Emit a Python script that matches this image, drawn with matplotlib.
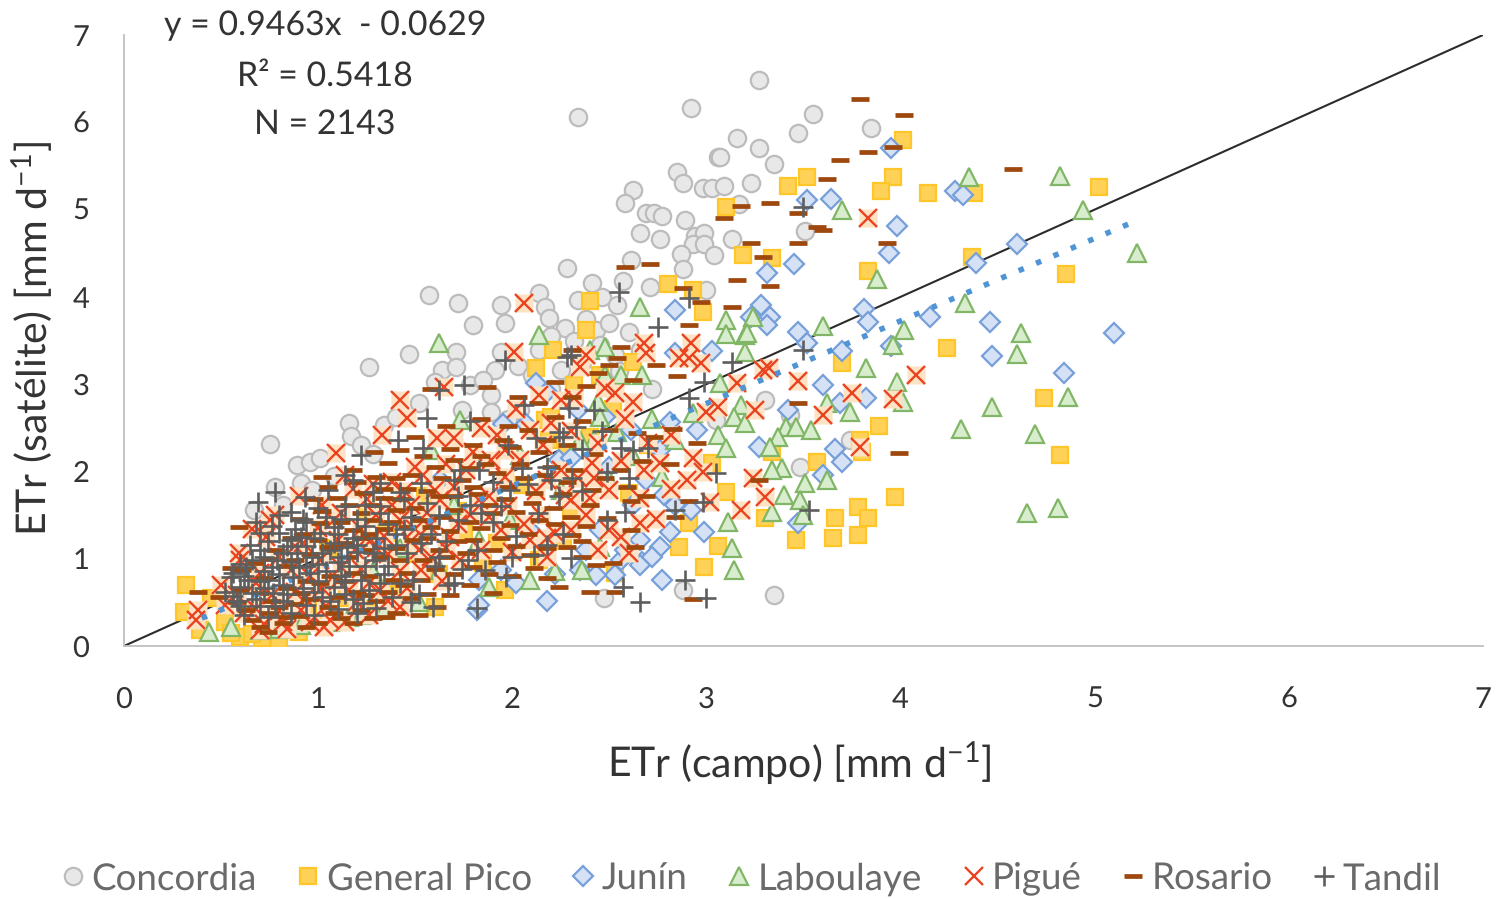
import matplotlib
matplotlib.use("Agg")
import matplotlib.pyplot as plt

plt.rcParams['font.family'] = ['Lato', 'DejaVu Sans']
plt.rcParams['mathtext.default'] = 'regular'
plt.rcParams['text.hinting'] = 'none'

concordia = [
    (3.27,6.48),(2.34,6.06),(2.92,6.16),(3.55,6.09),(3.47,5.88),(3.85,5.93),(3.16,5.82),(3.27,5.70),(3.06,5.60),(3.07,5.60),
    (3.35,5.52),(2.85,5.43),(2.88,5.31),(2.98,5.25),(3.03,5.25),(3.09,5.27),(3.23,5.30),(2.62,5.22),(2.58,5.08),(2.69,4.96),
    (2.73,4.96),(2.77,4.93),(2.89,4.88),(3.17,5.06),(3.51,4.75),(2.66,4.73),(2.76,4.66),(2.94,4.70),(2.99,4.73),(2.93,4.60),
    (2.99,4.60),(3.13,4.66),(2.87,4.49),(3.04,4.48),(2.88,4.32),(2.61,4.42),(2.28,4.33),(2.41,4.16),(2.57,4.18),(2.71,4.11),
    (3.00,4.08),(2.34,3.96),(2.46,4.00),(2.54,3.91),(1.57,4.02),(1.72,3.93),(1.94,3.91),(1.80,3.68),(1.96,3.70),(1.47,3.34),
    (1.26,3.20),(2.14,4.04),(2.17,3.88),(2.19,3.76),(2.27,3.64),(1.64,3.16),(1.71,3.37),(1.71,3.20),(1.94,3.37),(1.91,3.16),
    (2.03,3.21),(1.78,2.99),(1.89,2.88),(1.16,2.55),(1.34,2.53),(0.75,2.31),(1.17,2.41),(0.89,2.07),(0.96,2.11),(1.01,2.15),
    (0.91,1.87),(0.97,1.79),(0.67,1.56),(1.89,2.68),(2.04,2.70),(2.32,3.50),(2.43,3.62),(2.45,3.45),(2.53,3.33),(2.66,3.39),
    (2.14,3.39),(2.25,3.16),(3.35,0.58),(2.88,0.64),(2.47,0.55),(3.48,2.05),(3.43,2.65),(3.30,2.82),(3.05,2.59),(3.74,2.36),
    (1.98,2.60),(1.85,3.05),(1.22,2.30),(1.08,1.95),(2.38,3.75),(2.50,3.70),(2.60,3.60),(2.20,3.55),(2.36,3.25),(2.10,3.10),
    (1.60,3.02),(1.52,2.78),(1.74,2.70),(1.40,2.62),(2.20,2.95),(2.55,3.15),(2.72,2.95),(0.82,1.62),(0.78,1.82),(1.28,2.20),
]
general_pico = [
    (4.01,5.80),(3.96,5.37),(3.90,5.21),(4.14,5.19),(4.38,5.19),(3.52,5.37),(3.42,5.27),(3.10,5.03),(3.19,4.48),(3.34,4.45),
    (3.83,4.30),(4.37,4.46),(5.02,5.26),(4.85,4.26),(2.80,4.15),(2.93,4.08),(2.98,3.83),(2.40,3.95),(4.24,3.41),(3.89,2.52),
    (3.79,2.36),(3.80,2.22),(3.57,2.11),(3.97,1.71),(3.78,1.59),(3.66,1.47),(3.83,1.47),(3.78,1.27),(3.65,1.24),(3.46,1.21),
    (3.10,1.76),(3.30,1.47),(2.91,1.41),(2.86,1.13),(3.06,1.15),(2.99,0.90),(2.53,0.84),(3.70,3.24),(3.03,2.10),(3.34,2.22),
    (2.38,3.62),(4.82,2.19),(4.74,2.84),(0.32,0.70),(0.31,0.39),(0.39,0.18),(0.60,0.10),(0.80,0.07),(0.71,0.09),(0.52,0.27),
    (1.60,0.45),(1.96,0.64),(2.14,0.99),(2.21,3.39),(2.32,2.99),(2.45,3.10),(2.17,2.59),(2.19,2.36),(2.12,3.18),(1.55,1.72),
    (1.25,1.50),(1.75,1.30),(2.05,1.85),(2.30,1.55),(2.60,1.75),(1.15,0.55),(0.95,0.42),(1.40,0.60),(1.85,0.95),(2.20,2.62),
    (0.45,0.55),(0.55,0.15),(0.66,0.14),(0.90,0.16),(1.05,0.35),(1.25,0.42),(1.62,0.82),(1.72,1.55),(1.92,1.18),(2.26,1.20),
    (1.05,1.12),(1.35,1.30),(1.50,1.05),(2.40,2.40),(2.70,2.30),(2.28,2.22),(2.52,2.72),(2.62,3.25),
]
junin = [
    (3.95,5.70),(4.28,5.21),(4.32,5.17),(3.52,5.11),(3.64,5.12),(3.98,4.81),(3.94,4.50),(3.45,4.38),(3.31,4.27),(4.60,4.60),
    (4.39,4.39),(2.84,3.85),(3.28,3.91),(3.23,3.77),(3.33,3.77),(3.81,3.86),(3.83,3.71),(4.15,3.77),(4.46,3.71),(5.10,3.59),
    (4.47,3.32),(4.84,3.13),(3.31,3.68),(3.47,3.60),(3.52,3.47),(3.70,3.38),(3.95,3.44),(3.03,3.38),(2.84,3.36),(3.60,2.99),
    (3.82,2.84),(3.69,2.78),(3.42,2.70),(3.27,2.28),(3.66,2.26),(3.70,2.11),(2.81,2.57),(2.61,2.47),(2.95,2.47),(3.60,1.96),
    (2.69,1.90),(2.78,1.73),(2.81,1.31),(2.76,1.13),(2.99,1.31),(3.47,1.41),(2.67,0.96),(2.77,0.76),(2.18,0.51),(1.82,0.41),
    (1.83,0.47),(2.12,3.01),(2.18,2.91),(2.07,2.54),(1.95,2.54),(2.24,2.13),(2.53,0.81),(2.35,0.87),(2.43,0.81),(2.66,0.93),
    (2.56,0.99),(2.66,1.21),(2.45,1.33),(2.09,1.33),(1.94,0.87),(1.83,0.76),(1.63,1.90),(2.92,1.56),(2.30,2.15),(2.50,2.05),
    (2.58,1.10),(2.72,1.02),(2.38,1.10),(2.22,0.82),(2.02,0.72),(2.84,1.62),(2.62,1.62),(2.48,2.62),(2.34,2.70),(2.76,2.25),
]
laboulaye = [
    (4.35,5.37),(4.82,5.38),(4.94,4.99),(5.22,4.50),(3.70,4.99),(3.88,4.20),(4.33,3.93),(4.62,3.59),(4.60,3.34),(4.02,3.62),
    (3.96,3.45),(3.98,3.02),(4.01,2.79),(4.47,2.74),(4.31,2.49),(4.69,2.43),(4.86,2.85),(4.65,1.52),(4.81,1.58),(3.60,3.67),
    (3.82,3.18),(3.20,3.56),(3.10,3.73),(3.24,3.77),(2.66,3.88),(3.21,3.59),(3.10,3.58),(3.20,3.37),(2.67,3.10),(2.48,3.43),
    (2.56,3.10),(2.44,2.79),(2.45,2.62),(2.54,2.45),(2.42,2.36),(2.93,2.67),(3.07,3.01),(3.18,2.76),(3.14,2.62),(3.20,2.55),
    (3.06,2.42),(2.84,2.36),(3.10,2.27),(3.41,2.51),(3.46,2.51),(3.54,2.47),(3.37,2.39),(3.33,2.28),(3.62,2.78),(3.74,2.68),
    (3.39,2.04),(3.34,2.02),(3.51,1.87),(3.62,1.90),(3.40,1.73),(3.48,1.67),(3.34,1.53),(3.50,1.50),(3.13,1.12),(3.14,0.87),
    (2.77,1.94),(3.11,1.42),(2.45,1.13),(2.36,0.87),(1.62,3.47),(0.44,0.16),(1.16,0.33),(1.34,0.41),(2.09,0.76),(1.58,2.25),
    (1.73,2.59),(2.14,3.56),(2.48,3.10),(2.40,3.39),(2.25,1.79),(1.99,1.44),(1.83,1.21),(1.63,0.87),(0.91,0.24),(0.70,0.18),
    (1.06,0.27),(2.50,1.90),(2.35,2.36),(2.04,2.19),(0.55,0.22),(0.80,0.20),(1.22,0.36),(1.52,0.50),(1.88,0.68),(2.22,0.86),
    (1.28,0.85),(1.42,1.12),(1.70,1.62),(2.62,2.18),(2.72,2.60),
]
pigue = [
    (3.83,4.90),(2.06,3.93),(4.08,3.10),(3.96,2.83),(3.75,2.90),(3.60,2.65),(3.79,2.28),(3.47,3.04),(3.32,3.18),(3.29,3.16),
    (3.25,2.70),(3.16,3.01),(3.06,2.74),(3.00,2.68),(2.92,3.47),(2.86,3.30),(2.97,3.24),(2.91,3.30),(2.68,3.47),(2.69,3.36),
    (2.38,3.33),(2.35,3.20),(2.62,2.80),(2.53,2.90),(2.41,2.10),(2.76,2.10),(2.93,2.15),(2.90,1.90),(2.98,1.99),(3.02,1.65),
    (3.18,1.56),(3.24,1.92),(3.30,1.71),(2.30,1.67),(2.40,1.70),(2.50,1.79),(2.56,1.25),(2.66,1.41),(1.42,2.82),(1.46,2.61),
    (1.33,2.42),(1.09,2.21),(1.61,2.38),(1.70,2.38),(1.65,2.97),(0.78,1.50),(0.73,1.25),(0.59,1.07),(0.38,0.41),(1.42,0.45),
    (1.03,0.22),(2.01,3.37),(2.14,2.88),(1.96,2.25),(1.89,2.13),(2.25,2.82),(2.27,1.73),(2.25,2.02),(2.09,2.47),(2.04,2.13),
    (1.83,1.67),(1.63,1.67),(1.60,1.79),(1.42,1.44),(1.27,1.21),(1.19,1.10),(1.06,0.30),(0.91,0.41),(0.70,0.18),(0.52,0.47),
    (0.37,0.30),(0.60,0.98),(0.75,1.44),(0.86,0.87),(1.01,0.98),(1.16,0.64),(1.32,0.64),(1.53,0.87),(1.73,0.98),(1.94,1.33),
    (2.09,1.21),(2.30,1.33),(2.50,1.33),(0.82,0.28),(0.93,0.55),(1.10,0.75),(1.22,0.88),(1.36,1.05),(1.48,1.20),(1.57,1.38),
    (1.68,1.25),(1.78,1.50),(1.88,1.72),(1.98,1.60),(2.15,1.50),(2.18,1.90),(1.50,2.05),(1.38,1.88),(1.25,1.68),(1.12,1.52),
    (1.00,1.35),(0.88,1.15),(0.68,0.72),(0.62,0.38),(0.76,0.58),(1.30,1.12),(1.58,1.02),(1.70,1.82),(1.80,2.22),(1.92,2.42),
    (1.48,1.62),(1.18,1.80),(1.02,1.62),(0.90,1.72),(0.50,0.70),
]
# crosses packed into the dense part of the cloud
pigue_cloud = [
    (0.72,0.25),(0.84,0.20),(0.96,0.27),(1.14,0.28),(1.26,0.36),(0.68,0.42),(0.80,0.40),(1.04,0.46),(1.20,0.50),(1.36,0.52),
    (0.58,0.58),(0.88,0.62),(1.02,0.66),(1.26,0.72),(1.46,0.66),(0.70,0.84),(0.96,0.80),(1.12,0.90),(1.42,0.86),(1.64,0.74),
    (0.80,1.02),(0.92,1.18),(1.10,1.22),(1.22,1.34),(1.34,1.26),(1.52,1.10),(1.66,1.12),(1.84,1.10),(2.00,1.08),(2.18,1.02),
    (1.08,1.44),(1.30,1.50),(1.44,1.78),(1.56,1.52),(1.72,1.40),(1.88,1.48),(2.06,1.40),(2.22,1.30),(2.38,1.50),(1.14,1.96),
    (1.28,1.86),(1.54,1.96),(1.66,2.08),(1.76,2.02),(1.96,1.94),(2.12,1.78),(2.34,1.92),(2.44,2.32),(1.84,2.50),(2.02,2.72),
    (2.20,2.56),(2.32,2.84),(2.48,2.96),(2.58,2.60),(2.70,2.32),(2.82,1.80),(2.66,1.70),(2.44,1.10),(2.60,1.06),(0.66,1.34),
    (2.16,2.30),(2.30,2.46),(2.42,1.92),(2.56,2.12),(2.68,2.02),(2.82,2.42),(2.74,1.46),(2.18,1.24),(1.50,1.34),(1.38,1.62),
]
rosario = [
    (3.79,6.27),(4.02,6.08),(3.83,5.66),(3.69,5.57),(3.62,5.35),(3.96,5.72),(4.58,5.47),(3.18,5.04),(3.33,5.07),(3.47,4.96),
    (3.09,4.90),(3.57,4.80),(3.60,4.77),(3.23,4.62),(3.47,4.62),(3.93,4.62),(3.29,4.46),(2.58,4.34),(2.71,4.38),(3.16,4.19),
    (3.33,4.12),(2.88,4.10),(2.97,3.94),(3.13,3.88),(2.91,3.68),(2.56,3.43),(2.54,3.30),(2.31,3.39),(2.44,3.13),(2.85,3.09),
    (2.31,2.85),(3.47,2.78),(2.83,2.49),(2.95,2.33),(2.73,2.39),(2.67,2.12),(2.81,2.08),(3.99,2.21),(3.27,1.90),(2.41,1.79),
    (2.59,1.82),(2.69,1.72),(2.61,1.66),(2.91,1.66),(2.84,1.48),(2.49,1.47),(2.38,1.38),(2.63,1.13),(2.31,1.27),(2.52,0.95),
    (2.43,0.93),(2.40,0.62),(2.53,0.62),(2.93,0.54),(2.61,1.33),(2.28,1.13),(2.36,1.02),(0.59,1.36),(0.38,0.62),(1.02,1.94),
    (1.29,2.22),(1.58,2.94),(1.87,2.97),(2.03,2.85),(2.13,2.78),(2.08,2.48),(2.18,2.36),(1.80,2.30),(1.95,2.36),(1.70,2.13),
    (1.42,2.25),(1.18,2.02),(1.30,1.94),(1.40,1.93),(1.23,1.75),(1.05,1.82),(1.01,1.41),(1.05,1.13),(1.32,1.02),(1.53,0.76),
    (1.61,0.45),(1.35,0.33),(0.84,0.33),(0.94,0.22),(0.74,0.16),(0.61,0.87),(0.55,0.89),(0.49,0.56),(1.80,1.82),(1.90,1.52),
    (1.99,1.39),(1.92,0.96),(1.90,0.61),(1.80,0.90),(2.11,0.89),(2.18,0.78),(2.11,1.75),(2.21,1.58),(2.09,1.04),(1.70,1.56),
    (1.58,1.36),(1.49,1.21),(1.28,1.44),(1.18,1.33),(1.08,1.13),(1.39,0.76),(1.18,0.84),(1.01,0.72),(0.91,0.61),(0.70,0.61),
    (0.75,0.38),(0.63,0.41),(0.80,0.45),(1.05,0.45),(1.22,0.41),(0.66,0.30),(0.88,0.48),(1.12,0.32),(1.30,0.52),(1.48,0.55),
    (0.72,0.78),(0.84,0.92),(0.96,1.05),(1.14,1.18),(1.26,1.28),(1.38,1.42),(1.50,1.58),(1.62,1.72),(1.74,1.90),(1.86,2.08),
    (0.78,1.10),(0.92,1.28),(1.02,1.55),(1.16,1.62),(1.34,1.70),(1.46,1.80),(1.60,2.05),(1.72,1.20),(1.84,1.35),(1.96,1.68),
    (2.06,1.92),(2.20,2.05),(2.28,1.88),(2.02,1.15),(1.66,1.02),(1.42,0.98),(1.20,0.62),(1.44,0.70),(0.58,0.50),(0.68,0.95),
]
rosario_cloud = [
    (0.70,0.22),(0.82,0.26),(0.90,0.34),(1.00,0.26),(1.08,0.38),(1.18,0.26),(1.28,0.32),(1.40,0.38),(1.52,0.36),(0.60,0.64),
    (0.76,0.52),(0.96,0.54),(1.10,0.56),(1.24,0.58),(1.36,0.62),(1.56,0.60),(1.68,0.58),(1.78,0.70),(0.84,0.66),(0.94,0.74),
    (1.06,0.80),(1.14,0.74),(1.26,0.80),(1.46,0.84),(1.60,0.88),(1.70,0.82),(1.88,0.82),(2.00,0.80),(2.24,0.68),(0.74,1.00),
    (0.88,0.98),(1.16,1.02),(1.24,1.10),(1.40,1.12),(1.54,0.98),(1.62,1.10),(1.76,1.06),(1.90,1.10),(2.18,1.12),(0.86,1.24),
    (1.00,1.22),(1.22,1.24),(1.34,1.34),(1.46,1.36),(1.56,1.24),(1.68,1.32),(1.80,1.22),(1.94,1.24),(2.08,1.28),(2.22,1.40),
    (2.36,1.20),(0.90,1.46),(1.12,1.42),(1.22,1.52),(1.40,1.56),(1.52,1.44),(1.64,1.48),(1.78,1.42),(1.88,1.62),(2.02,1.54),
    (2.14,1.44),(2.30,1.48),(0.98,1.68),(1.10,1.70),(1.28,1.62),(1.42,1.68),(1.56,1.78),(1.70,1.72),(1.82,1.74),(1.98,1.82),
    (2.10,1.64),(2.26,1.74),(2.40,1.62),(1.20,1.88),(1.34,1.80),(1.48,1.96),(1.64,1.92),(1.78,2.04),(1.92,1.98),(2.04,2.08),
    (2.16,1.96),(2.32,2.02),(2.48,1.92),(1.36,2.10),(1.54,2.18),(1.68,2.26),(1.84,2.18),(2.00,2.28),(2.14,2.22),(2.28,2.30),
    (2.42,2.20),(2.56,2.02),(1.50,2.40),(1.66,2.52),(1.84,2.60),(1.98,2.52),(2.22,2.62),(2.36,2.58),(2.50,2.48),(2.64,2.44),
    (2.22,3.02),(2.38,2.98),(2.50,3.22),(2.62,3.05),(2.74,3.22),
]
tandil = [
    (2.75,3.65),(3.13,3.25),(3.50,3.39),(2.99,3.03),(2.91,2.84),(2.56,2.27),(2.62,2.24),(2.70,2.27),(2.42,2.70),(2.29,2.73),
    (2.33,2.51),(2.26,2.39),(2.28,3.31),(3.05,1.98),(2.49,1.99),(2.31,1.92),(2.60,1.92),(2.98,1.65),(2.84,1.56),(2.58,1.53),
    (2.49,1.44),(3.53,1.56),(2.30,1.01),(2.89,0.76),(2.57,0.68),(2.66,0.50),(3.00,0.55),(3.50,5.03),(2.55,4.05),(2.91,3.99),
    (1.96,3.28),(2.30,3.33),(1.75,2.99),(1.62,2.93),(2.06,2.76),(1.56,2.61),(1.78,2.58),(2.24,2.45),(1.41,2.36),(1.54,2.27),
    (1.22,2.19),(1.73,2.02),(1.83,2.02),(2.05,2.04),(2.18,2.05),(1.14,1.96),(0.78,1.76),(0.69,1.65),(0.93,1.71),(1.05,1.79),
    (0.86,1.54),(1.32,1.87),(1.18,1.90),(1.53,1.87),(1.70,1.90),(1.99,1.79),(2.13,1.52),(2.11,1.04),(1.86,0.87),(1.97,0.79),
    (1.67,0.70),(1.82,0.44),(1.59,0.45),(0.65,1.16),(0.80,1.29),(0.91,1.25),(1.01,1.29),(1.32,1.52),(1.15,1.13),(1.53,1.18),
    (0.63,0.90),(0.55,0.79),(0.74,0.76),(0.87,0.79),(0.96,0.84),(1.08,0.68),(1.23,0.49),(0.77,0.61),(0.66,0.61),(0.60,0.68),
    (0.56,0.84),(0.66,0.98),(0.79,0.98),(0.89,1.07),(0.97,1.02),(1.49,0.76),(1.70,0.72),(1.32,0.72),(1.77,0.98),(0.58,0.52),
    (0.70,0.46),(0.82,0.52),(0.92,0.66),(1.02,0.56),(1.14,0.74),(1.24,0.92),(0.72,0.86),(0.84,1.14),(1.06,1.10),(1.18,1.24),
    (0.52,0.62),(0.64,0.76),(0.76,0.90),(0.90,0.90),(1.00,0.94),(1.10,0.96),(1.28,1.06),(1.40,1.16),(1.44,1.34),(1.62,1.50),
    (1.78,1.62),(1.90,1.42),(0.68,1.42),(0.94,1.42),(1.12,1.46),(1.24,1.62),(1.44,1.68),(1.66,1.20),(2.02,1.26),(2.24,1.72),
]
tandil_cloud = [
    (0.62,0.36),(0.74,0.33),(0.86,0.38),(0.98,0.35),(1.10,0.42),(1.20,0.38),(0.60,0.46),(0.68,0.54),(0.78,0.46),(0.94,0.47),
    (1.06,0.52),(1.18,0.54),(1.30,0.44),(0.56,0.57),(0.72,0.66),(0.84,0.60),(0.98,0.62),(1.14,0.60),(1.26,0.64),(1.38,0.56),
    (0.70,0.74),(0.82,0.70),(1.00,0.74),(1.12,0.80),(1.22,0.76),(1.34,0.82),(1.42,0.72),(0.62,0.80),(0.80,0.82),(0.94,0.92),
    (1.04,0.86),(1.16,0.92),(1.36,0.92),(0.60,0.94),(0.72,1.02),(0.86,0.96),(1.02,1.06),(1.12,1.02),(1.20,1.08),(1.30,0.98),
    (0.70,1.10),(0.82,1.06),(0.94,1.14),(1.08,1.18),(1.20,1.16),(1.34,1.12),(1.46,1.06),(0.74,1.20),(0.86,1.22),(0.98,1.24),
    (1.10,1.28),(1.30,1.24),(1.40,1.28),(0.70,1.30),(0.88,1.34),(1.08,1.36),(1.24,1.38),(1.36,1.40),(0.76,1.38),(0.92,1.46),
    (1.04,1.48),(1.20,1.46),(1.32,1.60),(1.48,1.48),(1.58,1.28),(0.80,1.50),(1.00,1.58),(1.14,1.60),(1.28,1.76),(1.42,1.76),
    (1.56,1.64),(1.72,1.44),(1.84,1.52),(1.94,1.60),(1.60,0.92),(1.74,0.88),(1.62,1.02),(1.82,1.10),(2.00,1.02),(2.18,1.16),
    (2.26,1.28),(1.52,0.60),(1.48,0.50),(1.72,1.72),(1.90,1.88),(2.08,1.86),(2.20,1.90),(2.36,1.78),(1.98,2.30),(2.12,2.38),
    (2.36,2.26),(2.46,2.46),
]
trend_x = [0.40, 5.18]
trend_y = [0.32, 4.84]
diag_x = [0, 7]
diag_y = [0, 7]
ticks = [0, 1, 2, 3, 4, 5, 6, 7]

W, H = 1507, 899
fig = plt.figure(figsize=(W / 100, H / 100), dpi=100)
ax = fig.add_axes([124 / W, 1 - 646 / H, (1483 - 124) / W, (646 - 35) / H])

ax.plot(diag_x, diag_y, color='#2b2b2b', lw=1.5, zorder=1)


def xy(points):
    return [p[0] for p in points], [p[1] for p in points]


x, y = xy(concordia)
ax.plot(x, y, ls='none', marker='o', ms=12.5, mfc='#e8e8e8', mec='#bcbcbc', mew=1.6, label='Concordia', zorder=2)
x, y = xy(general_pico)
ax.plot(x, y, ls='none', marker='s', ms=12, mfc='#ffd257', mec='#ffc629', mew=1.6, label='General Pico', zorder=3)
x, y = xy(junin)
ax.plot(x, y, ls='none', marker='D', ms=10.5, mfc='#d5e2f6', mec='#769fd9', mew=1.6, label='Junín', zorder=4)
x, y = xy(laboulaye)
ax.plot(x, y, ls='none', marker='^', ms=12.5, mfc='#d8ecce', mec='#80b665', mew=1.6, label='Laboulaye', zorder=5)
x, y = xy(pigue + pigue_cloud)
# pale halo behind the crosses, as in the compressed original
ax.plot(x, y, ls='none', marker='s', ms=13, mfc='#fde2c4', mec='none', zorder=6)
ax.plot(x, y, ls='none', marker='x', ms=13.5, mec='#ea4320', mew=1.7, label='Pigué', zorder=7)
x, y = xy(rosario + rosario_cloud)
ax.plot(x, y, ls='none', marker='_', ms=13.5, mec='#9e480e', mew=3.4, label='Rosario', zorder=8)
ax.plot(trend_x, trend_y, color='#4f94d4', lw=4, ls=(0, (1, 2.4)), zorder=9)
x, y = xy(tandil + tandil_cloud)
ax.plot(x, y, ls='none', marker='+', ms=14.5, mec='#5e5e5e', mew=1.9, label='Tandil', zorder=10)

ax.set_xlim(0, 7)
ax.set_ylim(0, 7)
ax.set_xticks(ticks)
ax.set_yticks(ticks)
ax.tick_params(length=0, labelsize=21, labelcolor='#333333')
ax.tick_params(axis='x', pad=29)
ax.tick_params(axis='y', pad=25)
for s in ['top', 'right']:
    ax.spines[s].set_visible(False)
for s in ['left', 'bottom']:
    ax.spines[s].set_color('#bfbfbf')
    ax.spines[s].set_linewidth(1.3)

ax.set_xlabel('ETr (campo) [mm d$^{-1}$]', fontsize=29.5, color='#333333')
ax.xaxis.set_label_coords(0.497, -0.153)
ax.set_ylabel('ETr (satélite) [mm d$^{-1}$]', fontsize=29.5, color='#333333')
ax.yaxis.set_label_coords(-0.051, 0.504)

fig.text(325 / W, 1 - 26 / H, 'y = 0.9463x  - 0.0629', ha='center', va='center', fontsize=24.4, color='#333333')
fig.text(325 / W, 1 - 76 / H, 'R² = 0.5418', ha='center', va='center', fontsize=24.4, color='#333333')
fig.text(325 / W, 1 - 124 / H, 'N = 2143', ha='center', va='center', fontsize=24.4, color='#333333')

fig.legend(loc='center', bbox_to_anchor=(748 / W, 1 - 879 / H), ncol=7, frameon=False, fontsize=26.5,
           labelcolor='#6a6a6a', handletextpad=0.0, columnspacing=0.9, handlelength=1.0, borderpad=0)

fig.savefig('out.png', dpi=100)
